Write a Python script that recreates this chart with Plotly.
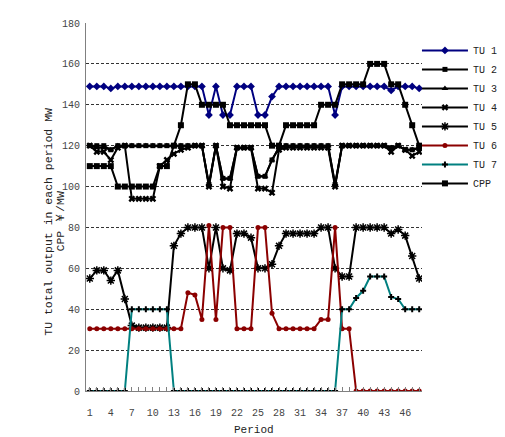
import plotly.graph_objects as go

periods = list(range(1, 49))
tick_text = ["1", "", "", "4", "", "", "7", "", "", "10", "", "", "13", "", "", "16", "", "",
             "19", "", "", "22", "", "", "25", "", "", "28", "", "", "31", "", "", "34", "", "",
             "37", "", "", "40", "", "", "43", "", "", "46", "", ""]

tu1 = [149, 149, 149, 148, 149, 149, 149, 149, 149, 149, 149, 149, 149, 149, 149, 149,
       149, 135, 149, 135, 135, 149, 149, 149, 135, 135, 144, 149, 149, 149, 149, 149,
       149, 149, 149, 135, 149, 149, 149, 149, 149, 149, 149, 147, 149, 149, 149, 148]
tu2 = [120, 120, 120, 118, 120, 120, 120, 120, 120, 120, 120, 120, 120, 120, 120, 120,
       120, 101, 120, 104, 104, 119, 119, 119, 105, 105, 113, 119, 120, 120, 120, 120,
       120, 120, 120, 101, 120, 120, 120, 120, 120, 120, 120, 119, 120, 118, 118, 119]
tu3 = [120, 119, 119, 118, 120, 120, 120, 120, 120, 120, 120, 120, 120, 120, 120, 120,
       120, 101, 120, 104, 104, 119, 119, 119, 105, 105, 113, 119, 120, 120, 120, 120,
       120, 120, 120, 101, 120, 120, 120, 120, 120, 120, 120, 119, 120, 118, 118, 119]
tu4 = [120, 117, 117, 113, 119, 120, 94, 94, 94, 94, 110, 113, 116, 118, 119, 120,
       120, 100, 120, 100, 99, 119, 119, 119, 99, 99, 97, 118, 119, 119, 119, 119,
       119, 119, 119, 100, 120, 120, 120, 120, 120, 120, 120, 117, 120, 118, 115, 117]
tu5 = [55, 59, 59, 54, 59, 45, 32, 31, 31, 31, 31, 31, 71, 77, 80, 80,
       80, 60, 80, 60, 59, 77, 77, 75, 60, 60, 62, 71, 77, 77, 77, 77,
       77, 80, 80, 60, 56, 56, 80, 80, 80, 80, 80, 77, 79, 76, 66, 55]
tu6 = [30.5, 30.5, 30.5, 30.5, 30.5, 30.5, 30.5, 30.5, 30.5, 30.5, 30.5, 30.5, 30.5, 30.5, 48, 47,
       35, 81, 35, 80, 80, 30.5, 30.5, 30.5, 80, 80, 38, 30.5, 30.5, 30.5, 30.5, 30.5,
       30.5, 35, 35, 80, 30.5, 30.5, 0, 0, 0, 0, 0, 0, 0, 0, 0, 0]
tu7 = [0, 0, 0, 0, 0, 0, 40, 40, 40, 40, 40, 40, 0, 0, 0, 0,
       0, 0, 0, 0, 0, 0, 0, 0, 0, 0, 0, 0, 0, 0, 0, 0,
       0, 0, 0, 0, 40, 40, 45.5, 49, 56, 56, 56, 46, 45, 40, 40, 40]
cpp = [110, 110, 110, 110, 100, 100, 100, 100, 100, 100, 110, 110, 120, 130, 150, 150,
       140, 140, 140, 140, 130, 130, 130, 130, 130, 130, 120, 120, 130, 130, 130, 130,
       130, 140, 140, 140, 150, 150, 150, 150, 160, 160, 160, 150, 150, 140, 130, 120]

series = [
    ("TU 1", tu1, "#000080", dict(symbol="diamond", size=6, color="#000080")),
    ("TU 2", tu2, "#000000", dict(symbol="square", size=5, color="#000000")),
    ("TU 3", tu3, "#000000", dict(symbol="triangle-up", size=6, color="#000000")),
    ("TU 4", tu4, "#000000", dict(symbol="x", size=6, color="#000000")),
    ("TU 5", tu5, "#000000", dict(symbol="asterisk-open", size=7, color="#000000",
                                  line=dict(width=1.5, color="#000000"))),
    ("TU 6", tu6, "#8B0000", dict(symbol="circle", size=5, color="#8B0000")),
    ("TU 7", tu7, "#008080", dict(symbol="cross", size=5, color="#000000")),
    ("CPP", cpp, "#000000", dict(symbol="square", size=6, color="#000000")),
]

fig = go.Figure()
for name, vals, col, mk in series:
    fig.add_trace(go.Scatter(
        x=periods, y=vals, name=name, mode="lines+markers",
        line=dict(color=col, width=2), marker=mk, legendgroup=name,
    ))

font_main = "Liberation Mono, DejaVu Sans Mono, monospace"

fig.update_layout(
    width=505, height=437,
    margin=dict(l=78, r=72, t=10, b=54),
    paper_bgcolor="white", plot_bgcolor="white",
    font=dict(family=font_main, size=10, color="#333333"),
    showlegend=True,
    legend=dict(x=0.985, y=0.965, xanchor="left", yanchor="top",
                font=dict(family=font_main, size=10, color="#222222"),
                bgcolor="rgba(0,0,0,0)", itemwidth=46, tracegroupgap=5,
                traceorder="normal"),
    xaxis=dict(range=[0.46, 48.4], tickmode="array", tickvals=periods, ticktext=tick_text,
               ticks="inside", ticklen=4, tickcolor="#808080", showgrid=False,
               showline=True, linecolor="#808080", linewidth=1, zeroline=False,
               tickfont=dict(family=font_main, size=10, color="#444444"),
               ticklabelstandoff=12),
    yaxis=dict(range=[0, 180], dtick=20, showgrid=True, gridcolor="#333333",
               griddash="3px,2px", gridwidth=1, zeroline=False,
               showline=True, linecolor="#808080", linewidth=1, ticks="",
               tickfont=dict(family=font_main, size=10, color="#444444"),
               ticklabelstandoff=3),
    annotations=[
        dict(text="TU total output in each period MW", xref="paper", yref="paper",
             x=-0.11, y=0.46, xanchor="center", yanchor="middle", textangle=-90,
             showarrow=False, font=dict(family=font_main, size=11.5, color="#222222")),
        dict(text="CPP ￥/MW", xref="paper", yref="paper",
             x=-0.075, y=0.46, xanchor="center", yanchor="middle", textangle=-90,
             showarrow=False, font=dict(family=font_main, size=11.5, color="#222222")),
        dict(text="Period", xref="paper", yref="paper",
             x=0.5, y=-0.106, xanchor="center", yanchor="middle",
             showarrow=False, font=dict(family=font_main, size=11, color="#222222")),
    ],
)

fig.write_html("out.html")
